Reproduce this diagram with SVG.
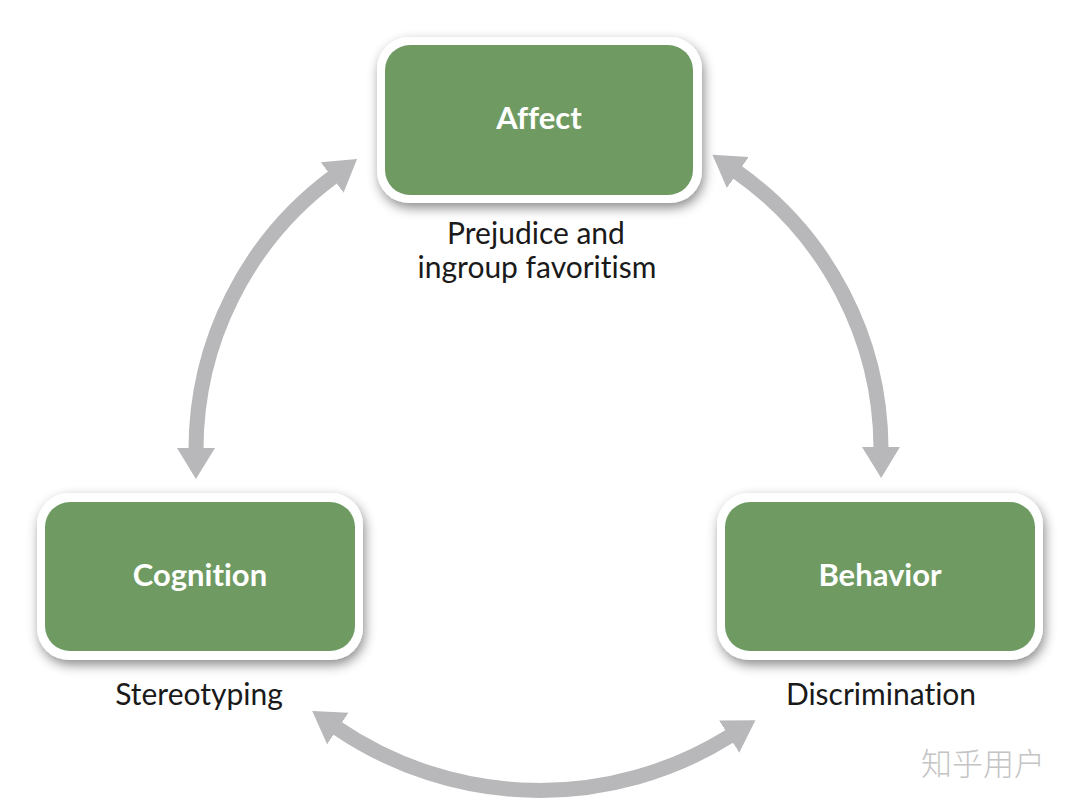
<svg xmlns="http://www.w3.org/2000/svg" width="1080" height="800" viewBox="0 0 1080 800">
  <defs>
    <filter id="shadow" x="-15%" y="-20%" width="135%" height="150%">
      <feDropShadow dx="2" dy="5" stdDeviation="6" flood-color="#000" flood-opacity="0.45"/>
    </filter>
    <marker id="head" viewBox="0 -20 32 40" markerUnits="userSpaceOnUse" markerWidth="32" markerHeight="40" refX="1" refY="0" orient="auto-start-reverse">
      <path d="M0,-19 L31,0 L0,19 z" fill="#b8b8bb"/>
    </marker>
    <style>
      .frame { fill: #ffffff; filter: url(#shadow); }
      .box { fill: #6f9b63; }
      text { font-variant-ligatures: none; font-feature-settings: "liga" 0, "clig" 0, "dlig" 0; }
      .title { font-family: Lato, "Open Sans", "Liberation Sans", sans-serif; font-weight: 700; font-size: 31px; fill: #ffffff; text-anchor: middle; }
      .label { font-family: Lato, "Open Sans", "Liberation Sans", sans-serif; font-size: 30px; fill: #1a1a1a; text-anchor: middle; }
      .arrow { fill: none; stroke: #b8b8bb; stroke-width: 15; marker-start: url(#head); marker-end: url(#head); }
      .wm { font-family: "Noto Sans CJK SC", sans-serif; font-weight: 300; font-size: 31px; fill: #c4c4c4; }
    </style>
  </defs>
  <rect width="1080" height="800" fill="#ffffff"/>

  <g id="connectors">
    <path class="arrow" d="M 196,449 A 340 340 0 0 1 333,177"/>
    <path class="arrow" d="M 737,172 A 340 340 0 0 1 881,448"/>
    <path class="arrow" d="M 337,728 A 360 360 0 0 0 730,736"/>
  </g>

  <g id="affect">
    <rect class="frame" x="377" y="37" width="325" height="166" rx="32"/>
    <rect class="box" x="385" y="45" width="308" height="150" rx="25"/>
    <text class="title" x="539" y="129">Affect</text>
    <text class="label" x="536" y="244">Prejudice and</text>
    <text class="label" x="537" y="278">ingroup favoritism</text>
  </g>

  <g id="cognition">
    <rect class="frame" x="37" y="493" width="326" height="167" rx="32"/>
    <rect class="box" x="45" y="502" width="310" height="149" rx="25"/>
    <text class="title" x="200" y="586">Cognition</text>
    <text class="label" x="199" y="705">Stereotyping</text>
  </g>

  <g id="behavior">
    <rect class="frame" x="717" y="493" width="326" height="167" rx="32"/>
    <rect class="box" x="725" y="502" width="310" height="149" rx="25"/>
    <text class="title" x="880" y="586">Behavior</text>
    <text class="label" x="881" y="705">Discrimination</text>
  </g>

  <text class="wm" x="921" y="775">知乎用户</text>
</svg>
